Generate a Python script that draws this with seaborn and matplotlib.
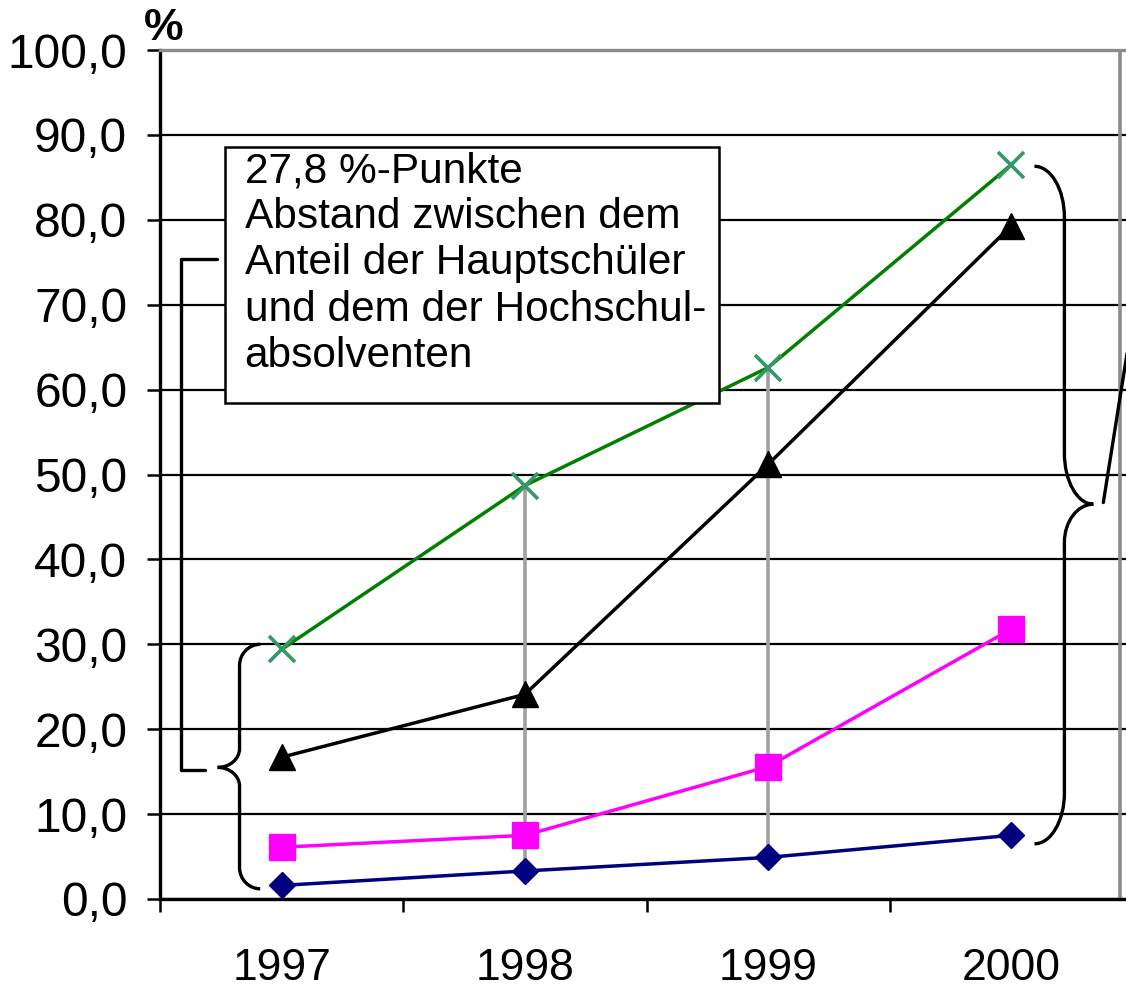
import matplotlib.pyplot as plt
import numpy as np
import pandas as pd
import seaborn as sns
from matplotlib.patches import Rectangle, PathPatch
from matplotlib.path import Path

# values (percent)
years = ['1997', '1998', '1999', '2000']
hochschule = [29.4, 48.7, 62.6, 86.5]      # green, x markers
series_black = [16.7, 24.1, 51.2, 79.3]    # black triangles
series_magenta = [6.1, 7.5, 15.6, 31.8]    # magenta squares
hauptschule = [1.6, 3.3, 4.9, 7.5]         # navy diamonds
drop_years = [1, 2]                        # grey drop lines at 1998 and 1999
y_ticks = np.arange(0, 101, 10)
note = ("27,8 %-Punkte\nAbstand zwischen dem\nAnteil der Hauptschüler\n"
        "und dem der Hochschul-\nabsolventen")

df = pd.DataFrame({
    'pos': np.arange(len(years)),
    'hochschule': hochschule,
    'black': series_black,
    'magenta': series_magenta,
    'hauptschule': hauptschule,
})

sns.set_style('white')
plt.rcParams['font.family'] = ['Liberation Sans', 'DejaVu Sans']
plt.rcParams['text.color'] = 'black'
plt.rcParams['xtick.color'] = 'black'
plt.rcParams['ytick.color'] = 'black'

fig = plt.figure(figsize=(11.26, 9.91), dpi=100)
# axes runs a little past the right edge of the picture, like the original crop
ax = fig.add_axes([160 / 1126, 92 / 991, 973 / 1126, 849 / 991])

styles = {
    'hochschule': dict(color='#008000', marker='x', markersize=19, markeredgewidth=2.6,
                       markeredgecolor='#339966'),
    'black': dict(color='black', marker='^', markersize=19, markeredgewidth=1,
                  markeredgecolor='black'),
    'magenta': dict(color='#ff00ff', marker='s', markersize=18.5, markeredgewidth=1,
                    markeredgecolor='#ff00ff'),
    'hauptschule': dict(color='#000080', marker='D', markersize=13.5, markeredgewidth=1,
                        markeredgecolor='#000080'),
}
for name, st in styles.items():
    sns.lineplot(data=df, x='pos', y=name, ax=ax, linewidth=2.5, zorder=3, **st)

# grey high-low lines
ax.vlines(df['pos'].iloc[drop_years], df['hauptschule'].iloc[drop_years],
          df['hochschule'].iloc[drop_years], color='#a0a0a0', linewidth=2.6, zorder=2)

ax.set_xlim(-0.5, 3.5)
ax.set_ylim(0, 100)
ax.set_xlabel('')
ax.set_ylabel('')

ax.set_yticks(y_ticks)
ax.set_yticklabels([f'{v:.1f}'.replace('.', ',') for v in y_ticks])
ax.set_xticks(df['pos'])
ax.set_xticklabels(years)
ax.set_xticks(np.arange(-0.5, 4, 1), minor=True)
ax.tick_params(axis='y', which='major', direction='out', length=9.5, width=1.8,
               labelsize=34.5, pad=14, left=True, labelcolor='black')
ax.tick_params(axis='x', which='major', length=0, labelsize=32, pad=35, labelcolor='black')
ax.tick_params(axis='x', which='minor', direction='out', length=9.5, width=1.8,
               bottom=True)

ax.yaxis.grid(True, color='black', linewidth=1.6)
ax.xaxis.grid(False)
for side in ['left', 'bottom']:
    ax.spines[side].set_color('black')
    ax.spines[side].set_linewidth(2.4)
ax.spines['top'].set_color('#8c8c8c')
ax.spines['top'].set_linewidth(2.4)
ax.spines['right'].set_visible(False)
ax.axvline(3.445, color='#8c8c8c', linewidth=2.6, zorder=2.5)

# annotation box
ax.add_patch(Rectangle((-0.234, 58.4), 2.034, 30.2, facecolor='white',
                       edgecolor='black', linewidth=1.8, zorder=4))
ax.text(-0.152, 88.1, note, fontsize=30.5, ha='left', va='top',
        linespacing=1.2, zorder=5)


def brace(x_end, x_mid, x_tip, y_top, y_tip, y_bot, r_top, r_tip1, r_tip2, r_bot):
    k = 0.55
    verts = [
        (x_end, y_top),
        (x_end + (x_mid - x_end) * k, y_top), (x_mid, y_top - r_top * (1 - k)), (x_mid, y_top - r_top),
        (x_mid, y_tip + r_tip1),
        (x_mid, y_tip + r_tip1 * (1 - k)), (x_mid + (x_tip - x_mid) * (1 - k), y_tip), (x_tip, y_tip),
        (x_mid + (x_tip - x_mid) * (1 - k), y_tip), (x_mid, y_tip - r_tip2 * (1 - k)), (x_mid, y_tip - r_tip2),
        (x_mid, y_bot + r_bot),
        (x_mid, y_bot + r_bot * (1 - k)), (x_end + (x_mid - x_end) * k, y_bot), (x_end, y_bot),
    ]
    codes = [Path.MOVETO] + [Path.CURVE4] * 3 + [Path.LINETO] + [Path.CURVE4] * 6 + \
            [Path.LINETO] + [Path.CURVE4] * 3
    ax.add_patch(PathPatch(Path(verts, codes), facecolor='none', edgecolor='black',
                           linewidth=2.4, zorder=4, clip_on=False))


brace(-0.088, -0.173, -0.263, 30.0, 15.5, 1.2, 2.5, 2.2, 2.2, 2.5)
brace(3.095, 3.218, 3.337, 86.3, 46.5, 6.5, 6.0, 6.0, 4.5, 6.0)

# connector from the box to the left brace
ax.plot([-0.267, -0.415, -0.415, -0.316], [75.4, 75.4, 15.2, 15.2],
        color='black', linewidth=2.4, zorder=4, clip_on=False)
# pointer leaving the right brace
ax.plot([3.378, 3.56], [46.7, 79.5], color='black', linewidth=2.4, zorder=4, clip_on=False)

fig.text(164 / 1126, 1 - 40 / 991, '%', fontsize=32, fontweight='bold',
         ha='center', va='baseline')

fig.savefig('out.png', dpi=100)
